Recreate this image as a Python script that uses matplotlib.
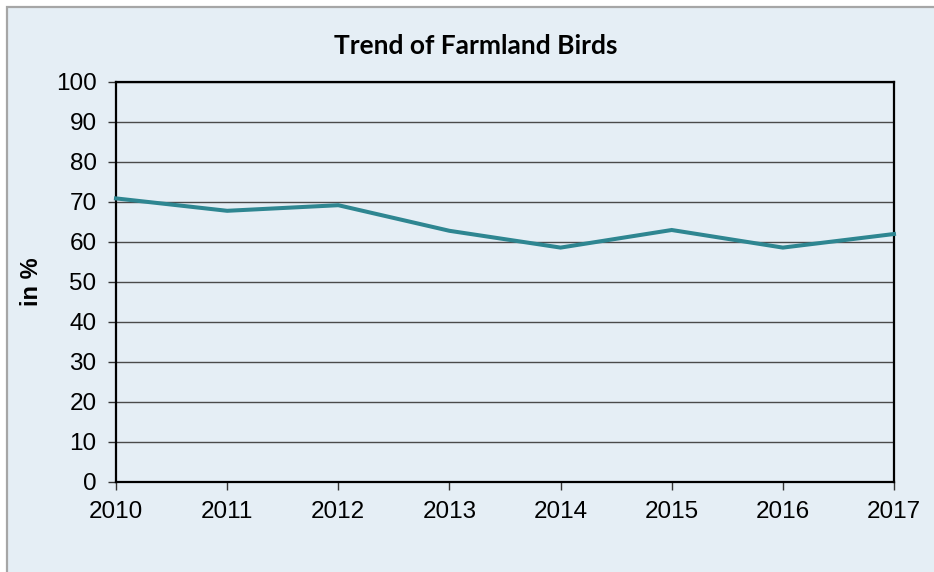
import matplotlib
matplotlib.use("Agg")
import matplotlib.pyplot as plt
from matplotlib.patches import Rectangle

years = [2010, 2011, 2012, 2013, 2014, 2015, 2016, 2017]
values = [70.9, 67.8, 69.2, 62.8, 58.6, 63.0, 58.6, 62.0]
yticks = list(range(0, 101, 10))
title = "Trend of Farmland Birds"
ylabel = "in %"

W, H = 934, 572
bg = "#e5eef5"
fig = plt.figure(figsize=(W / 100, H / 100), dpi=100)
fig.patch.set_facecolor("white")
fig.patches.append(Rectangle((7 / W, -0.1), 1.2, 1.1 - 7 / H, transform=fig.transFigure,
                             facecolor=bg, edgecolor="#a6a6a6", linewidth=1.6, zorder=-10))

ax = fig.add_axes([116 / W, (H - 482) / H, 778 / W, 400 / H])
ax.set_zorder(5)
ax.set_facecolor(bg)
ax.plot(years, values, color="#2e8691", linewidth=2.9, solid_joinstyle="miter", zorder=3, clip_on=False)
ax.set_xlim(years[0], years[-1])
ax.set_ylim(0, 100)
ax.set_yticks(yticks)
ax.set_xticks(years)
ax.yaxis.grid(True, color="#4a4a4a", linewidth=1.0)
ax.set_axisbelow(True)
for s in ax.spines.values():
    s.set_color("black")
    s.set_linewidth(1.6)
ax.tick_params(axis="both", length=6, width=1.0, color="#333333", labelsize=17.5, pad=8,
               labelcolor="black")
for lab in ax.get_xticklabels() + ax.get_yticklabels():
    lab.set_fontfamily("Liberation Sans")
ax.set_ylabel(ylabel, fontfamily="Liberation Sans", fontweight="bold", fontsize=17)
ax.yaxis.set_label_coords(-0.0938, 0.5)
fig.text(476 / W, 1 - 46 / H, title, ha="center", va="center", fontfamily="Lato",
         fontweight="bold", fontsize=19, zorder=6)

fig.savefig("out.png", dpi=100, facecolor=fig.get_facecolor())
